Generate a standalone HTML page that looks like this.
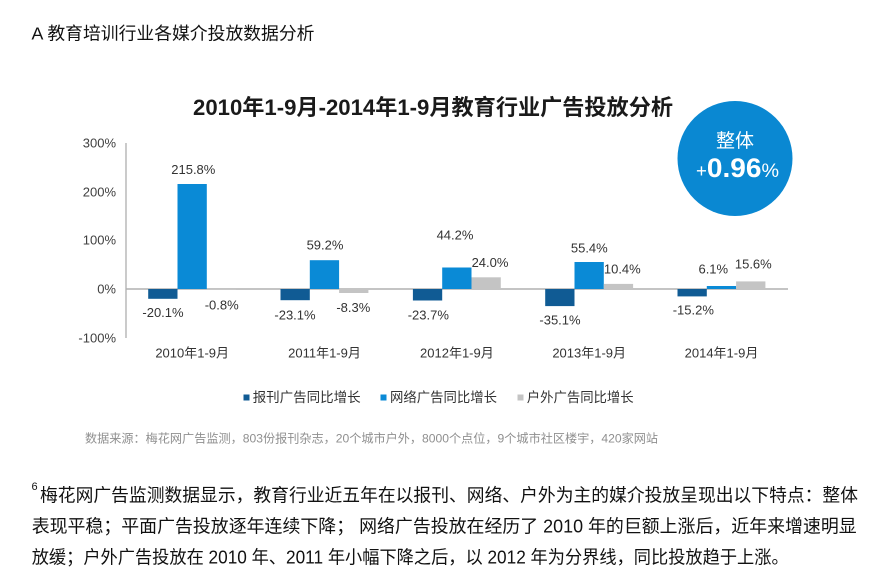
<!DOCTYPE html>
<html>
<head>
<meta charset="utf-8">
<style>
  html, body { margin:0; padding:0; background:#fff; }
  body { width:881px; height:587px; overflow:hidden; }
  svg { display:block; }
  text { font-family: "Liberation Sans", "Noto Sans CJK SC", sans-serif; }
  .cjk { font-family: "Liberation Sans", "Noto Sans CJK SC", sans-serif; }
</style>
</head>
<body>
<svg width="881" height="587" viewBox="0 0 881 587" xmlns="http://www.w3.org/2000/svg">
  <rect x="0" y="0" width="881" height="587" fill="#ffffff"/>

  <!-- Heading -->
  <text x="31.5" y="39.5" font-size="17.5" fill="#111" textLength="283" lengthAdjust="spacingAndGlyphs">A 教育培训行业各媒介投放数据分析</text>

  <!-- Chart title -->
  <text x="193" y="115" font-size="22" font-weight="bold" fill="#1a1a1a" textLength="480" lengthAdjust="spacingAndGlyphs">2010年1-9月-2014年1-9月教育行业广告投放分析</text>

  <!-- Circle -->
  <circle cx="735" cy="158.5" r="57.5" fill="#0a88d2"/>
  <text x="735" y="147" font-size="19" fill="#ffffff" text-anchor="middle">整体</text>
  <text x="737.5" y="177" fill="#ffffff" text-anchor="middle" textLength="83" lengthAdjust="spacingAndGlyphs"><tspan font-size="18">+</tspan><tspan font-size="27" font-weight="bold">0.96</tspan><tspan font-size="19">%</tspan></text>

  <!-- Y axis -->
  <line x1="126" y1="143" x2="126" y2="338" stroke="#a8a8a8" stroke-width="1.2"/>
  <g font-size="13" fill="#404040" text-anchor="end">
    <text x="116" y="147.5">300%</text>
    <text x="116" y="196.5">200%</text>
    <text x="116" y="244.5">100%</text>
    <text x="116" y="293.5">0%</text>
    <text x="116" y="342.5">-100%</text>
  </g>

  <!-- Zero line -->
  <line x1="126" y1="289" x2="788" y2="289" stroke="#b0b0b0" stroke-width="1.5"/>

  <!-- Bars -->
  <g>
    <!-- 2010 c=192.2 -->
    <rect x="148.2" y="289" width="29.3" height="9.8" fill="#105b94"/>
    <rect x="177.5" y="184" width="29.3" height="105" fill="#0a8ad6"/>
    <rect x="206.8" y="289" width="29.3" height="0.8" fill="#c4c4c4"/>
    <!-- 2011 c=324.5 -->
    <rect x="280.5" y="289" width="29.3" height="11.2" fill="#105b94"/>
    <rect x="309.8" y="260.2" width="29.3" height="28.8" fill="#0a8ad6"/>
    <rect x="339.1" y="289" width="29.3" height="4.0" fill="#c4c4c4"/>
    <!-- 2012 c=456.9 -->
    <rect x="412.9" y="289" width="29.3" height="11.5" fill="#105b94"/>
    <rect x="442.2" y="267.5" width="29.3" height="21.5" fill="#0a8ad6"/>
    <rect x="471.5" y="277.3" width="29.3" height="11.7" fill="#c4c4c4"/>
    <!-- 2013 c=589.2 -->
    <rect x="545.2" y="289" width="29.3" height="17.1" fill="#105b94"/>
    <rect x="574.5" y="262" width="29.3" height="27" fill="#0a8ad6"/>
    <rect x="603.8" y="283.9" width="29.3" height="5.1" fill="#c4c4c4"/>
    <!-- 2014 c=721.5 -->
    <rect x="677.5" y="289" width="29.3" height="7.4" fill="#105b94"/>
    <rect x="706.8" y="286" width="29.3" height="3.0" fill="#0a8ad6"/>
    <rect x="736.1" y="281.4" width="29.3" height="7.6" fill="#c4c4c4"/>
  </g>

  <!-- Value labels -->
  <g font-size="13" fill="#333" text-anchor="middle">
    <text x="193.3" y="174">215.8%</text>
    <text x="163" y="317">-20.1%</text>
    <text x="221.7" y="309.5">-0.8%</text>

    <text x="325" y="249.5">59.2%</text>
    <text x="295" y="319.5">-23.1%</text>
    <text x="353.3" y="312">-8.3%</text>

    <text x="455" y="239.5">44.2%</text>
    <text x="490" y="267">24.0%</text>
    <text x="428.3" y="319.5">-23.7%</text>

    <text x="589.3" y="252.5">55.4%</text>
    <text x="622.3" y="273.5">10.4%</text>
    <text x="560" y="324.5">-35.1%</text>

    <text x="713.3" y="273.5">6.1%</text>
    <text x="753.3" y="268.5">15.6%</text>
    <text x="693.3" y="314.5">-15.2%</text>
  </g>

  <!-- Category labels -->
  <g font-size="13" fill="#333" text-anchor="middle">
    <text x="192.2" y="357.5">2010年1-9月</text>
    <text x="324.5" y="357.5">2011年1-9月</text>
    <text x="456.9" y="357.5">2012年1-9月</text>
    <text x="589.2" y="357.5">2013年1-9月</text>
    <text x="721.5" y="357.5">2014年1-9月</text>
  </g>

  <!-- Legend -->
  <rect x="243.5" y="394.5" width="6" height="6" fill="#105b94"/>
  <text x="252.7" y="402" font-size="13.5" fill="#333" textLength="108" lengthAdjust="spacingAndGlyphs">报刊广告同比增长</text>
  <rect x="380.5" y="394.5" width="6" height="6" fill="#0a8ad6"/>
  <text x="390" y="402" font-size="13.5" fill="#333" textLength="107" lengthAdjust="spacingAndGlyphs">网络广告同比增长</text>
  <rect x="517.5" y="394.5" width="6" height="6" fill="#c4c4c4"/>
  <text x="526.7" y="402" font-size="13.5" fill="#333" textLength="107" lengthAdjust="spacingAndGlyphs">户外广告同比增长</text>

  <!-- Source -->
  <text x="85" y="442.5" font-size="12" fill="#8f8f8f" textLength="573" lengthAdjust="spacingAndGlyphs">数据来源：梅花网广告监测，803份报刊杂志，20个城市户外，8000个点位，9个城市社区楼宇，420家网站</text>

  <!-- Paragraph -->
  <text x="31.5" y="490" font-size="11" fill="#111">6</text>
  <text x="40" y="501.5" font-size="18" fill="#111" textLength="818" lengthAdjust="spacingAndGlyphs">梅花网广告监测数据显示，教育行业近五年在以报刊、网络、户外为主的媒介投放呈现出以下特点：整体</text>
  <text x="31.7" y="532.5" font-size="18" fill="#111" textLength="825" lengthAdjust="spacingAndGlyphs">表现平稳；平面广告投放逐年连续下降； 网络广告投放在经历了 2010 年的巨额上涨后，近年来增速明显</text>
  <text x="31.7" y="563.5" font-size="18" fill="#111" textLength="757" lengthAdjust="spacingAndGlyphs">放缓；户外广告投放在 2010 年、2011 年小幅下降之后，以 2012 年为分界线，同比投放趋于上涨。</text>
</svg>
</body>
</html>
